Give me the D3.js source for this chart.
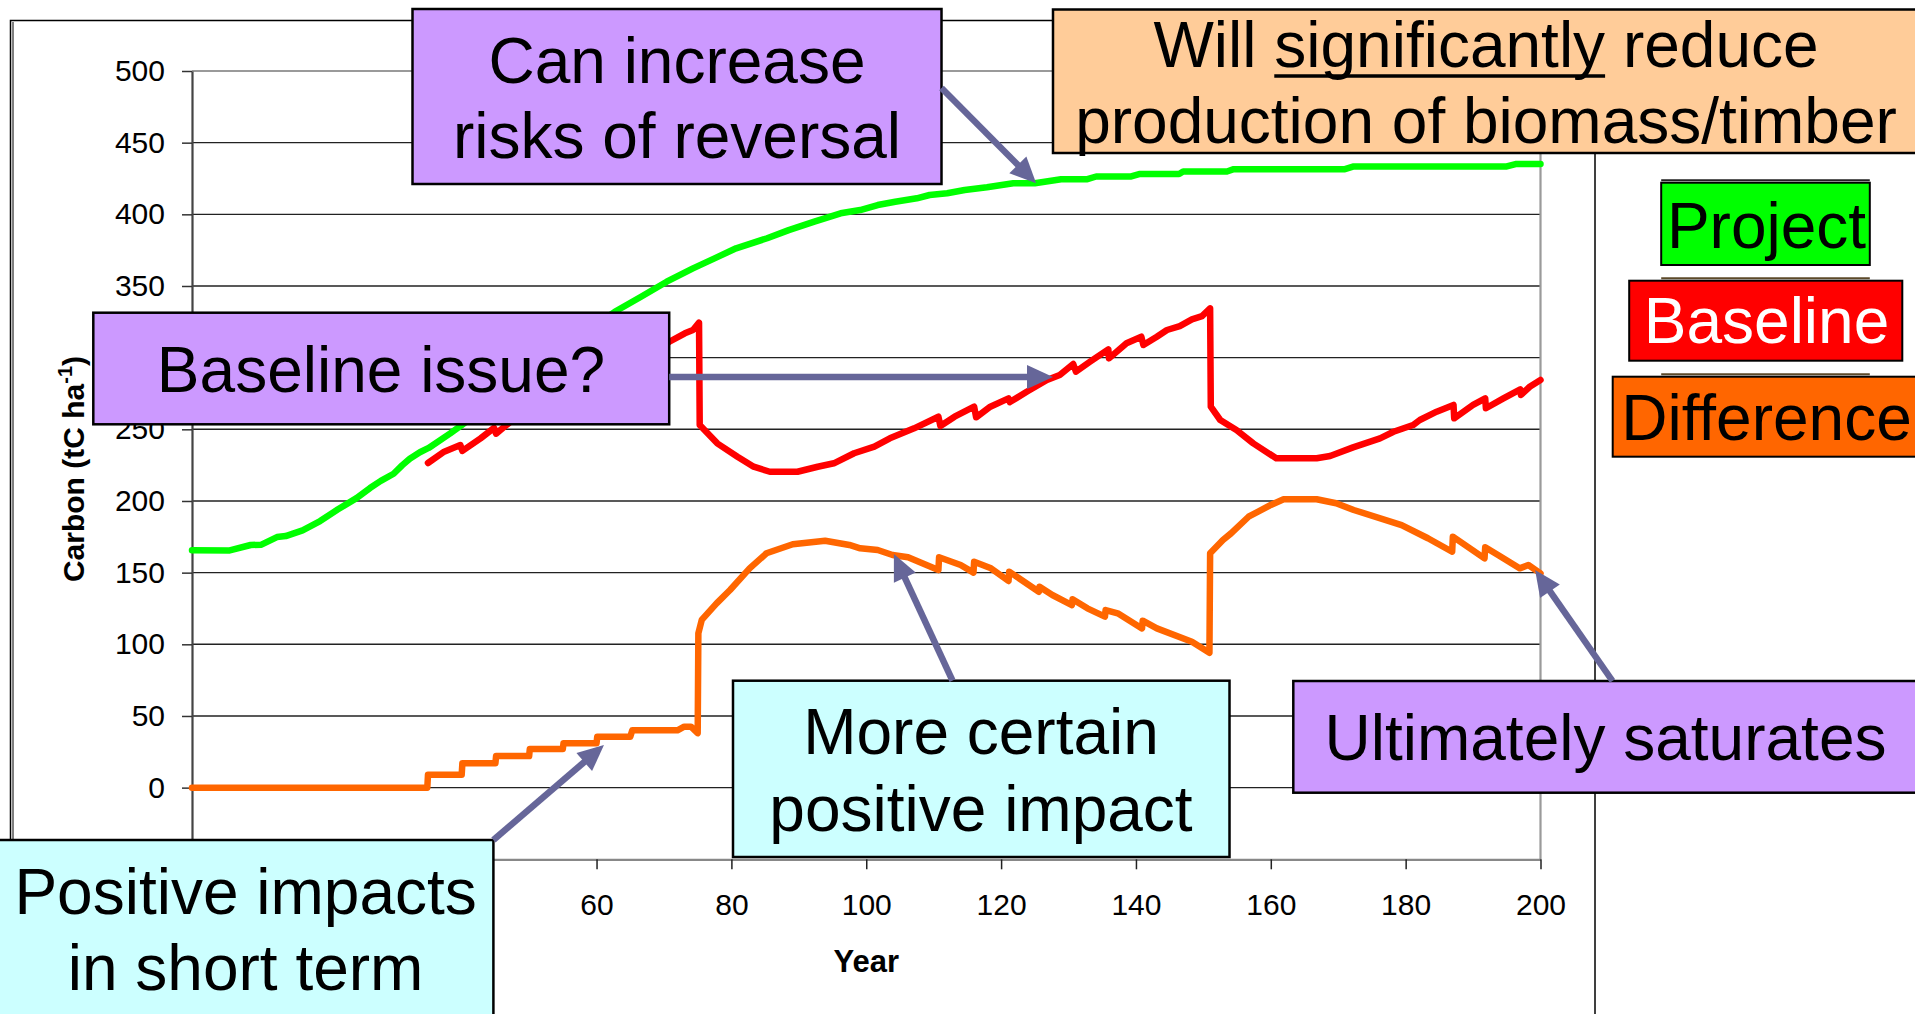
<!DOCTYPE html>
<html>
<head>
<meta charset="utf-8">
<script src="https://cdnjs.cloudflare.com/ajax/libs/d3/7.8.5/d3.min.js"></script>
<style>
  body { margin: 0; background: #fff; overflow: hidden; }
  svg { display: block; }
  text { font-family: "Liberation Sans", Arial, sans-serif; }
</style>
</head>
<body>
<div id="chart"></div>
<script>
// values: year -> tC/ha
const projectYears = [0, 5.6, 8.7, 10.3, 12.6, 13.9, 16.4, 19, 21.6, 24.4, 26.4, 28, 29.9, 31.2, 32.3, 33.8, 35.1, 38.3, 40, 45,
  50, 55, 60, 62.7, 66.6, 70.4, 74.3, 77.5, 80.7, 85.3, 88.5, 92.3, 96.2, 99.1, 101.7, 104.3, 107.5, 109.4, 112, 114.6,
  117.9, 121.8, 125, 128.9, 132.8, 134.1, 139.3, 140.6, 146.4, 147, 153.5, 154.5, 171, 172.3, 195, 196.3, 200];
const projectValues = [165.7, 165.5, 169.3, 169.5, 174.8, 175.5, 179.5, 186, 194, 202, 209, 214, 219, 225, 229.5, 234, 237, 247.2, 253, 270.5,
  288, 305.5, 323, 332, 342.5, 353, 362.3, 369.3, 376.3, 383.3, 389, 394.9, 400.7, 403, 406.5, 408.8, 411.2, 413.5, 414.7, 417,
  418.9, 421.7, 421.7, 424.5, 424.5, 426.4, 426.4, 428.2, 428.2, 429.9, 429.9, 431.5, 431.5, 433.4, 433.4, 435.1, 435.1];

const baselineYears = [35, 37.4, 39.8, 40.1, 42.8, 44.8, 45.1, 50, 50.1, 55, 55.1, 60, 60.1, 65, 65.1, 70.8, 73.1, 74.3, 75.2, 75.3,
  77.9, 80.9, 83.3, 85.7, 89.8, 92.8, 95.2, 98.2, 101.2, 103.5, 107.1, 110.7, 111, 113.1, 116, 116.3, 118.4, 121.1, 121.3, 123.8,
  126.8, 128.7, 130.7, 131.1, 133.2, 135.9, 136, 138.6, 140.8, 141.1, 143.1, 144.6, 146.5, 148.3, 149.8, 151, 151.1, 152.5, 154.9, 157.4,
  160.8, 166.8, 168.8, 172.2, 176.2, 178.2, 181.1, 182.1, 184.6, 187.1, 187.2, 190, 191.8, 191.9, 194.5, 197, 197.1, 198.4, 200];
const baselineValues = [226.5, 234.4, 239, 235, 243.7, 251, 247, 266, 262, 279.5, 274.5, 292, 287.5, 302.8, 298.3, 311.1, 317, 319.3, 324.4, 253,
  240.2, 230.9, 223.9, 220.4, 220.4, 223.9, 226.3, 233.3, 237.9, 243.7, 250.7, 258.8, 252.3, 258.8, 265.8, 258.4, 265.8, 271.6, 269, 276.2,
  284.4, 287.9, 295.6, 290.2, 297.2, 305.8, 299.5, 310, 314.6, 308.8, 314.6, 319.3, 322, 326.7, 329, 334.4, 265.8, 256.5, 249.5, 240.2,
  229.8, 229.8, 231.4, 237.4, 243.7, 248.3, 253, 256.5, 262.3, 267, 257.7, 267, 271.6, 264.7, 271.6, 277.9, 274, 279.7, 284.4];

const differenceYears = [0, 34.9, 35, 40, 40.1, 45, 45.1, 50, 50.1, 55, 55.1, 60, 60.1, 65, 65.3, 72, 73, 74, 75, 75.1,
  75.6, 77.8, 79.8, 82.7, 85.2, 89.1, 93.9, 97.5, 99.1, 101.7, 103.9, 106.2, 110.7, 110.8, 114, 115.9, 116, 118.5, 121.1, 121.2,
  125.6, 125.7, 127.6, 130.5, 130.6, 132.8, 135.4, 135.5, 137.3, 140.9, 141, 143.1, 148.3, 150.9, 151, 152.9, 154.1, 156.7, 160, 161.9,
  166.8, 169.7, 172.3, 179.4, 183.3, 186.9, 187, 191.7, 191.8, 193.7, 196.9, 198.2, 200];
const differenceValues = [0, 0, 9, 9, 17, 17, 22, 22, 27, 27, 31, 31, 35.5, 35.5, 40, 40, 42.5, 42.5, 38, 107.7,
  117, 128.6, 137.9, 153, 163.5, 169.8, 172.3, 169.3, 167, 165.8, 162.3, 160.7, 151.8, 160.7, 155.3, 150, 157.6, 153, 144.2, 150.7,
  136.7, 140.2, 134.4, 127.4, 131.4, 125.1, 119.3, 123.9, 121.6, 111.1, 116.5, 111.1, 101.8, 94.1, 163.5, 172.8, 177.4, 189, 197.2, 201.2,
  201.2, 198.4, 193.7, 183.2, 174, 164.6, 175.1, 160, 167.7, 162.3, 153, 155.3, 149.5];

const xTicks = [0, 20, 40, 60, 80, 100, 120, 140, 160, 180, 200];
const yTicks = [-50, 0, 50, 100, 150, 200, 250, 300, 350, 400, 450, 500];
// labels that sit under the annotation boxes are not visible in the picture
const hiddenXLabels = [0, 20, 40];
const hiddenYLabels = [-50, 300];

const seriesNames = ['Project', 'Baseline', 'Difference'];
const seriesColors = ['#00ff00', '#ff0000', '#ff6600'];

const width = 1915, height = 1014;
const plot = { left: 192, right: 1540.5, top: 71, bottom: 859.3 };

const svg = d3.select('#chart').append('svg')
  .attr('width', width)
  .attr('height', height);

const x = d3.scaleLinear().domain([0, 200]).range([plot.left, plot.right]);
const y = d3.scaleLinear().domain([-50, 500]).range([plot.bottom, plot.top]);

// outer chart frame (double on the left)
svg.append('rect')
  .attr('x', 10.5).attr('y', 20.5)
  .attr('width', 1595 - 10.5).attr('height', 1100)
  .attr('fill', 'none').attr('stroke', '#000').attr('stroke-width', 1.5);
svg.append('line')
  .attr('x1', 13).attr('y1', 22).attr('x2', 13).attr('y2', height)
  .attr('stroke', '#000').attr('stroke-width', 1);

// gridlines
svg.append('g').selectAll('line')
  .data(yTicks.filter(d => d > -50 && d < 500))
  .enter().append('line')
  .attr('x1', plot.left).attr('x2', plot.right)
  .attr('y1', d => y(d)).attr('y2', d => y(d))
  .attr('stroke', '#222').attr('stroke-width', 1.4);

// plot border top/right
svg.append('path')
  .attr('d', `M${plot.left},${y(500)}H${plot.right}V${plot.bottom}`)
  .attr('fill', 'none').attr('stroke', '#9a9a9a').attr('stroke-width', 2.2);

// y axis
const yAxis = svg.append('g')
  .attr('transform', `translate(${plot.left},0)`)
  .call(d3.axisLeft(y).tickValues(yTicks).tickSize(10).tickSizeOuter(0).tickPadding(17)
    .tickFormat(d => hiddenYLabels.includes(d) ? '' : d));
yAxis.select('.domain').attr('stroke', '#444').attr('stroke-width', 2.2);
yAxis.selectAll('.tick line').attr('stroke', '#333').attr('stroke-width', 1.5);
yAxis.selectAll('.tick text').attr('font-size', 30).attr('fill', '#000')
  .style('font-family', '"Liberation Sans", Arial, sans-serif');

// x axis
const xAxis = svg.append('g')
  .attr('transform', `translate(0,${plot.bottom})`)
  .call(d3.axisBottom(x).tickValues(xTicks).tickSize(10).tickSizeOuter(0).tickPadding(24)
    .tickFormat(d => hiddenXLabels.includes(d) ? '' : d));
xAxis.select('.domain').attr('stroke', '#888').attr('stroke-width', 2.2);
xAxis.selectAll('.tick line').attr('stroke', '#222').attr('stroke-width', 1.5);
xAxis.selectAll('.tick text').attr('font-size', 30).attr('fill', '#000')
  .style('font-family', '"Liberation Sans", Arial, sans-serif');

// axis titles
svg.append('text')
  .attr('x', (plot.left + plot.right) / 2).attr('y', 972)
  .attr('text-anchor', 'middle')
  .attr('font-size', 31).attr('font-weight', 'bold')
  .text('Year');

const yTitle = svg.append('text')
  .attr('transform', 'translate(84,469) rotate(-90)')
  .attr('text-anchor', 'middle')
  .attr('font-size', 30).attr('font-weight', 'bold');
yTitle.append('tspan').text('Carbon (tC ha');
yTitle.append('tspan').attr('font-size', 20).attr('dy', -12).text('-1');
yTitle.append('tspan').attr('dy', 12).text(')');

// the three series
const line = d3.line()
  .x(d => x(d[0]))
  .y(d => y(d[1]));

const seriesData = [
  d3.zip(projectYears, projectValues),
  d3.zip(baselineYears, baselineValues),
  d3.zip(differenceYears, differenceValues)
];

svg.append('g').selectAll('path')
  .data(seriesData)
  .enter().append('path')
  .attr('d', line)
  .attr('fill', 'none')
  .attr('stroke', (d, i) => seriesColors[i])
  .attr('stroke-width', 6.5)
  .attr('stroke-linejoin', 'round')
  .attr('stroke-linecap', 'round');

// annotation boxes
const notes = [
  { x0: 412.5, y0: 9, x1: 941.5, y1: 184, fill: '#cc99ff', cx: 677, lines: ['Can increase', 'risks of reversal'], base: [83, 158] },
  { x0: 1053, y0: 9.5, x1: 1922, y1: 153, fill: '#ffcc99', cx: 1486, lines: ['Will significantly reduce', 'production of biomass/timber'], base: [67, 143] },
  { x0: 93.3, y0: 312.7, x1: 669.2, y1: 424.3, fill: '#cc99ff', cx: 381, lines: ['Baseline issue?'], base: [392] },
  { x0: 733, y0: 680.7, x1: 1229.5, y1: 857, fill: '#ccffff', cx: 981, lines: ['More certain', 'positive impact'], base: [754, 831] },
  { x0: 1293.3, y0: 681, x1: 1922, y1: 792.7, fill: '#cc99ff', cx: 1605.5, lines: ['Ultimately saturates'], base: [760] },
  { x0: -3, y0: 840, x1: 493.4, y1: 1030, fill: '#ccffff', cx: 245.6, lines: ['Positive impacts', 'in short term'], base: [914, 990] }
];

// arrows: tail in page pixels, tip on the curves (year, value)
const arrows = [
  { from: [941.5, 88], to: [125.2, 421.6] },
  { from: [669.2, 377], to: [127.7, 286.5] },
  { from: [952.5, 680.7], to: [104.1, 163] },
  { from: [1612.5, 681], to: [199.2, 151.9] },
  { from: [493.4, 840], to: [61.1, 29.7] }
];

const noteG = svg.append('g');
notes.forEach(n => {
  noteG.append('rect')
    .attr('x', n.x0).attr('y', n.y0)
    .attr('width', n.x1 - n.x0).attr('height', n.y1 - n.y0)
    .attr('fill', n.fill).attr('stroke', '#000').attr('stroke-width', 2.5);
  n.lines.forEach((t, i) => {
    const txt = noteG.append('text')
      .attr('x', n.cx).attr('y', n.base[i])
      .attr('text-anchor', 'middle')
      .attr('font-size', 64).attr('fill', '#000')
      .text(t);
    // underline "significantly"
    const k = t.indexOf('significantly');
    if (k >= 0) {
      const node = txt.node();
      const sx = node.getStartPositionOfChar(k).x;
      const ex = node.getEndPositionOfChar(k + 'significantly'.length - 1).x;
      noteG.append('line')
        .attr('x1', sx).attr('x2', ex)
        .attr('y1', n.base[i] + 9).attr('y2', n.base[i] + 9)
        .attr('stroke', '#000').attr('stroke-width', 3.5);
    }
  });
});

const arrowG = svg.append('g').attr('fill', '#666699');
arrows.forEach(a => {
  const x1 = a.from[0], y1 = a.from[1];
  const x2 = x(a.to[0]), y2 = y(a.to[1]);
  const len = Math.hypot(x2 - x1, y2 - y1);
  const ux = (x2 - x1) / len, uy = (y2 - y1) / len;
  const hl = 26, hw = 12;
  const bx = x2 - ux * hl, by = y2 - uy * hl;
  arrowG.append('line')
    .attr('x1', x1).attr('y1', y1).attr('x2', bx + ux * 2).attr('y2', by + uy * 2)
    .attr('stroke', '#666699').attr('stroke-width', 6.5);
  arrowG.append('path')
    .attr('d', `M${x2},${y2}L${bx - uy * hw},${by + ux * hw}L${bx + uy * hw},${by - ux * hw}Z`);
});

// legend boxes at the right
const legendBoxes = [
  { x0: 1661.2, y0: 182.7, x1: 1869.8, y1: 265, base: 248, text: '#000' },
  { x0: 1629.2, y0: 280.7, x1: 1902.3, y1: 360.7, base: 343, text: '#fff' },
  { x0: 1612.7, y0: 376.7, x1: 1922, y1: 456.7, base: 440, text: '#000' }
];
const legend = svg.append('g');
legendBoxes.forEach((b, i) => {
  // thin line of the legend frame peeking above each box
  legend.append('line')
    .attr('x1', 1661.2).attr('x2', 1869.8)
    .attr('y1', b.y0 - 2.5).attr('y2', b.y0 - 2.5)
    .attr('stroke', i === 0 ? '#222' : '#5c4a2a').attr('stroke-width', 2);
  legend.append('rect')
    .attr('x', b.x0).attr('y', b.y0)
    .attr('width', b.x1 - b.x0).attr('height', b.y1 - b.y0)
    .attr('fill', seriesColors[i]).attr('stroke', '#000').attr('stroke-width', 2);
  legend.append('text')
    .attr('x', 1766.5).attr('y', b.base)
    .attr('text-anchor', 'middle')
    .attr('font-size', 64).attr('fill', b.text)
    .text(seriesNames[i]);
});
</script>
</body>
</html>
